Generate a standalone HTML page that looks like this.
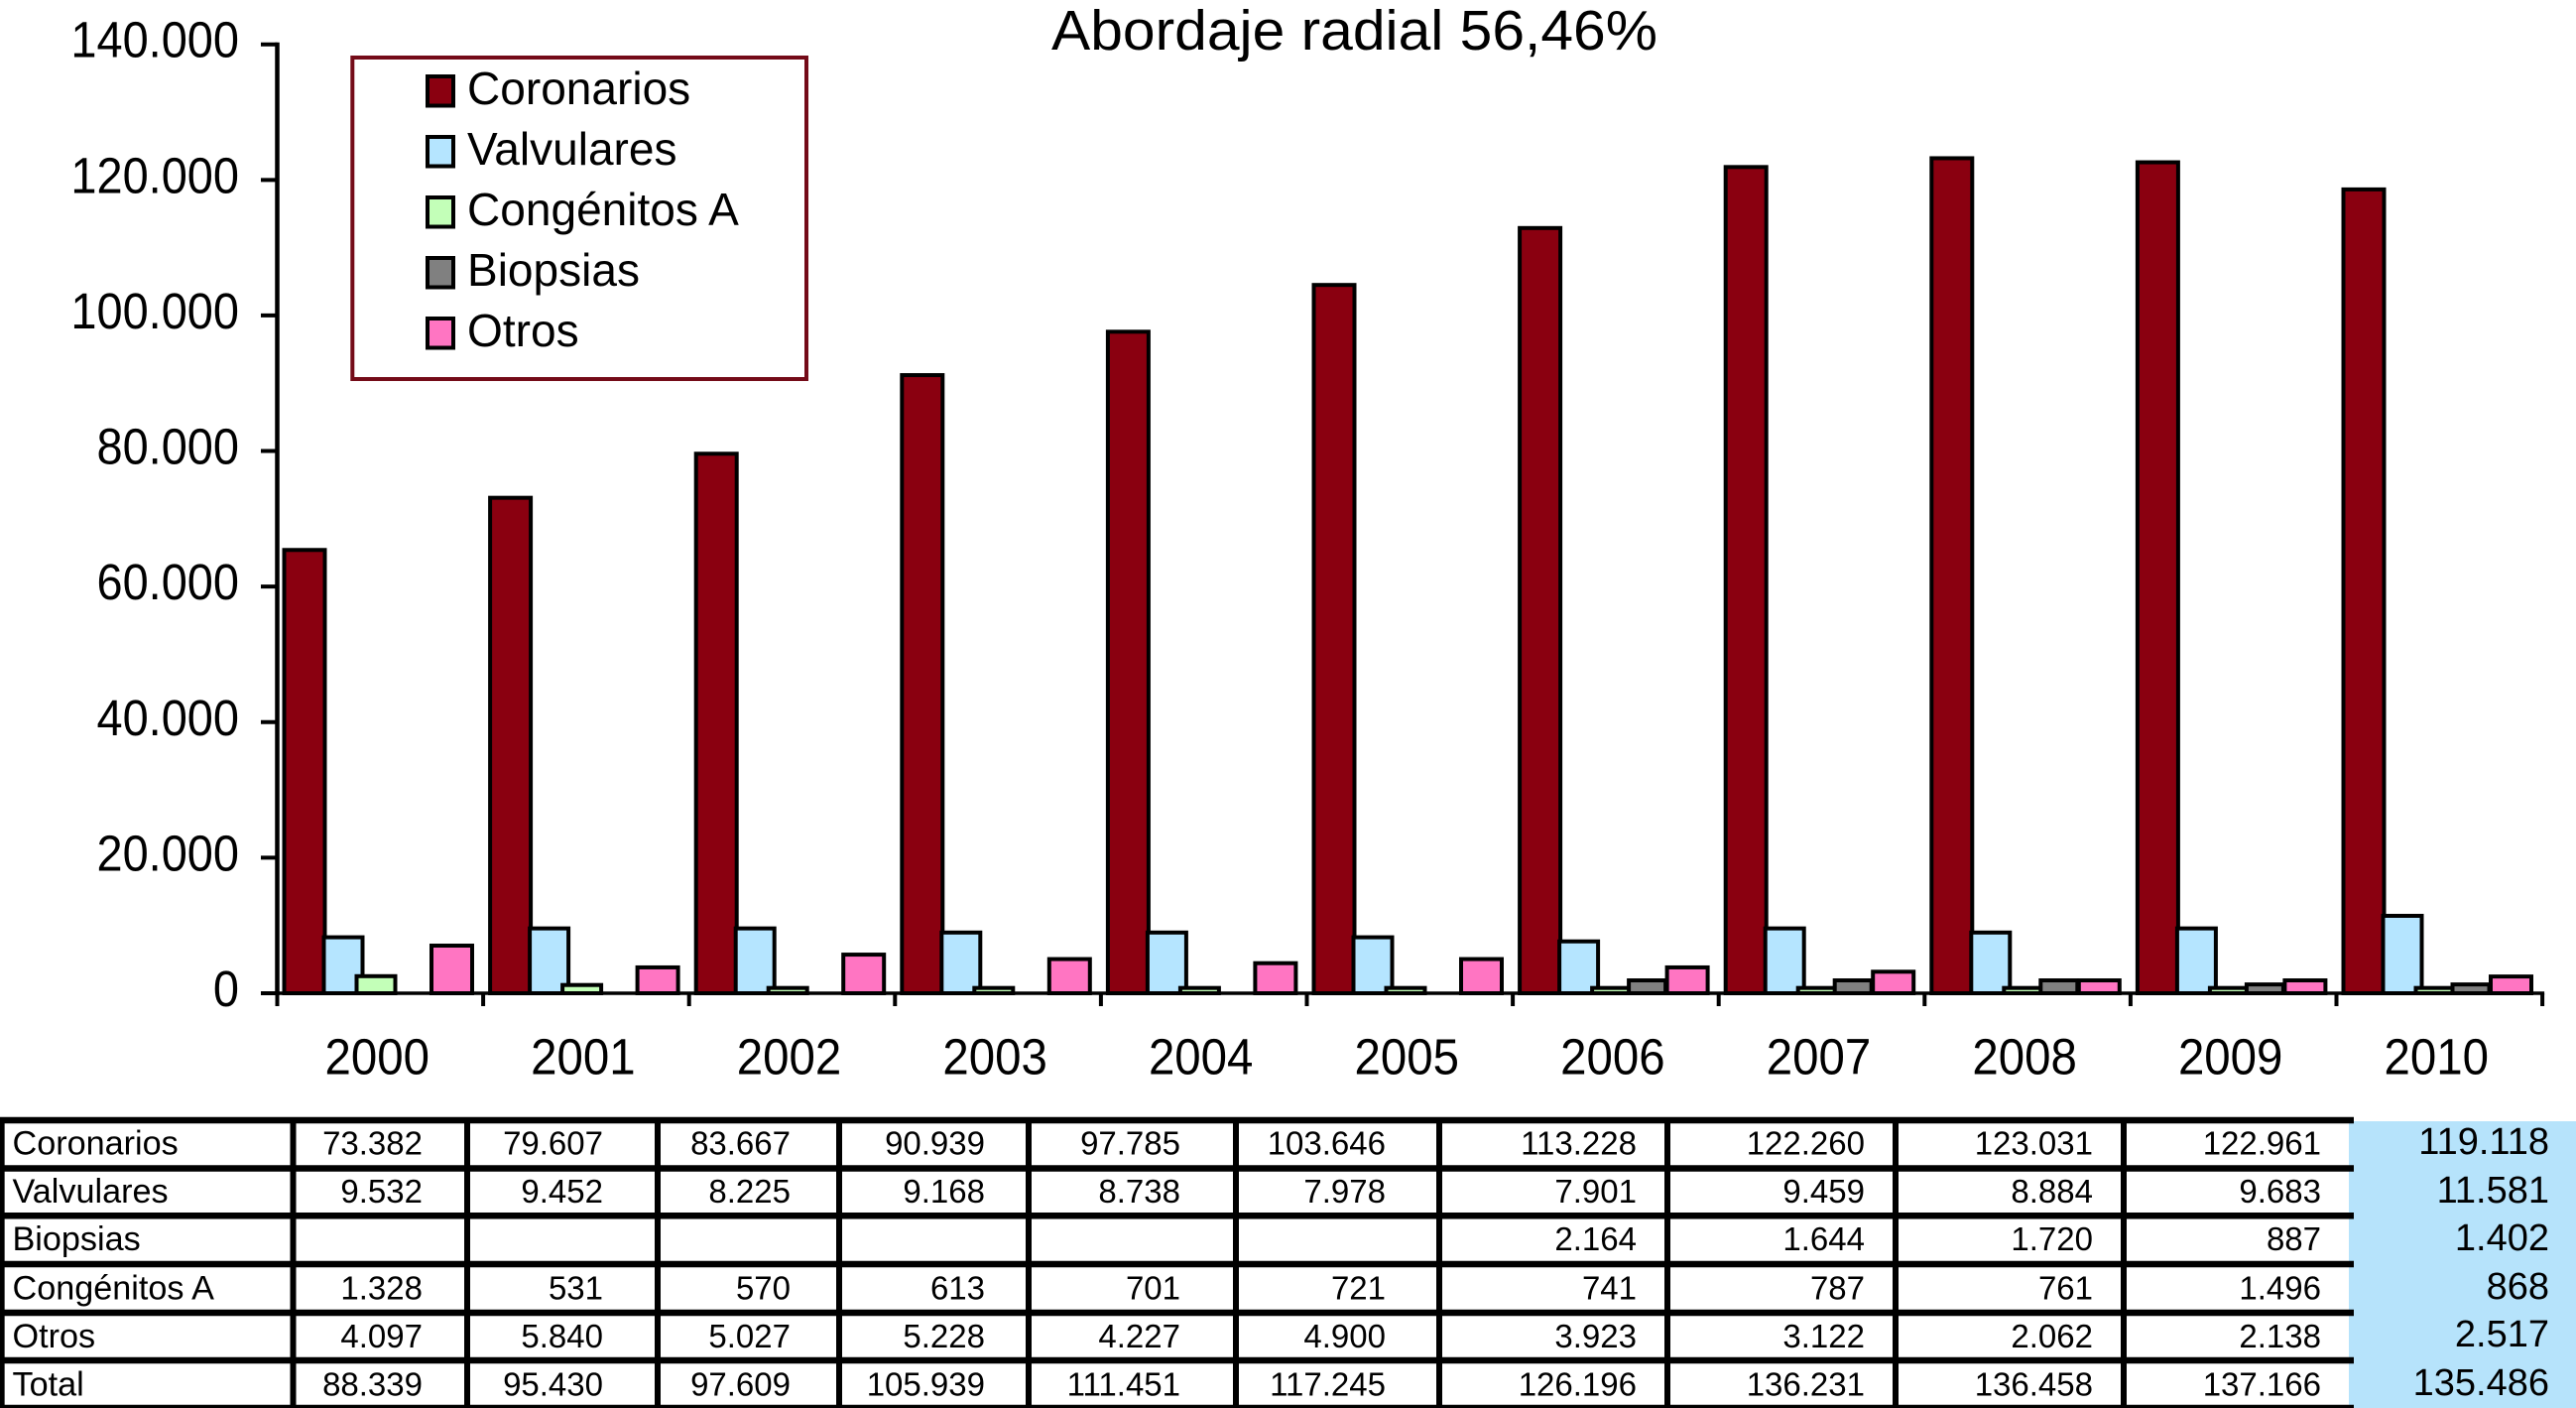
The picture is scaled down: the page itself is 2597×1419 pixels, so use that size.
<!DOCTYPE html>
<html lang="es">
<head>
<meta charset="utf-8">
<title>Abordaje radial 56,46%</title>
<style>
html,body{margin:0;padding:0;background:#fff;}
svg{display:block;}
text{font-family:"Liberation Sans",Arial,sans-serif;fill:#000;}
</style>
</head>
<body>
<svg id="chart" xmlns="http://www.w3.org/2000/svg" width="2597" height="1419" viewBox="0 0 2597 1419"></svg>
<script>
// ---- chart data ----
const years = ['2000','2001','2002','2003','2004','2005','2006','2007','2008','2009','2010'];
const coronarios = [65400,73100,79600,91200,97600,104500,112900,121900,123200,122600,118600];
const valvulares = [8257,9565,9565,8957,8957,8257,7650,9565,8957,9565,11420];
const congenitos = [2520,1215,780,780,780,780,780,780,780,780,780];
const biopsias = [null,null,null,null,null,null,1900,1900,1900,1300,1300];
const otros = [7025,3815,5700,5040,4435,5040,3815,3175,1900,1900,2470];
const yTickValues = [0,20000,40000,60000,80000,100000,120000,140000];
const yTickLabels = ['0','20.000','40.000','60.000','80.000','100.000','120.000','140.000'];
const legendLabels = ['Coronarios','Valvulares','Congénitos A','Biopsias','Otros'];
const seriesColors = ['#8a0010','#b5e5ff','#c3ffb8','#808080','#ff75c2'];

// ---- table data ----
const tableLabels = ['Coronarios','Valvulares','Biopsias','Congénitos A','Otros','Total'];
const rowCoronarios = ['73.382','79.607','83.667','90.939','97.785','103.646','113.228','122.260','123.031','122.961','119.118'];
const rowValvulares = ['9.532','9.452','8.225','9.168','8.738','7.978','7.901','9.459','8.884','9.683','11.581'];
const rowBiopsias = ['','','','','','','2.164','1.644','1.720','887','1.402'];
const rowCongenitos = ['1.328','531','570','613','701','721','741','787','761','1.496','868'];
const rowOtros = ['4.097','5.840','5.027','5.228','4.227','4.900','3.923','3.122','2.062','2.138','2.517'];
const rowTotal = ['88.339','95.430','97.609','105.939','111.451','117.245','126.196','136.231','136.458','137.166','135.486'];

// ---- layout ----
const NS = 'http://www.w3.org/2000/svg';
const svg = document.getElementById('chart');
const plotLeft = 279.5, bandW = 207.6, y0 = 1001, pxPerUnit = 956.3 / 140000;
const sw = 4;
const serOffset = [5, 45, 78, 115, 153.5];
const serWidth = [45, 43, 43, 41, 45];
const yScale = v => y0 - v * pxPerUnit;
const bandX = i => plotLeft + bandW * i;

function mk(tag, attrs, parent) {
  const el = document.createElementNS(NS, tag);
  for (const k in attrs) el.setAttribute(k, attrs[k]);
  (parent || svg).appendChild(el);
  return el;
}
function label(str, attrs, sx, parent) {
  const el = mk('text', attrs, parent);
  el.textContent = str;
  if (sx && sx !== 1) {
    const w = el.getComputedTextLength();
    el.setAttribute('textLength', (w * sx).toFixed(1));
    el.setAttribute('lengthAdjust', 'spacingAndGlyphs');
  }
  return el;
}

// title
const titleEl = label('Abordaje radial 56,46%', {x:1060, y:50, 'font-size':57, textLength:611, lengthAdjust:'spacingAndGlyphs'});



// y axis
const yAxis = mk('line', {x1:plotLeft, x2:plotLeft, y1:yScale(140000)-2, y2:y0+2, stroke:'#000','stroke-width':4.5});


yTickValues.forEach((v, i) => {
  const t = mk('line', {x1:263, x2:plotLeft, y1:yScale(v), y2:yScale(v), stroke:'#000','stroke-width':4});
  
  
  const l = label(yTickLabels[i], {x:241, y:yScale(v)+13, 'text-anchor':'end', 'font-size':51}, 0.92);
  
  
});

// bars
const allSeries = [coronarios, valvulares, congenitos, biopsias, otros];
const seriesSlugs = ['coronarios','valvulares','congenitos','biopsias','otros'];
years.forEach((yr, i) => {
  allSeries.forEach((vals, s) => {
    const v = vals[i];
    if (v === null) return;
    const x = bandX(i) + serOffset[s] + sw / 2;
    const yTop = yScale(v);
    const bar = mk('rect', {x:x, y:yTop, width:serWidth[s]-sw, height:y0-yTop, fill:seriesColors[s], stroke:'#000','stroke-width':sw});
    
    
  });
});

// x axis
const xAxis = mk('line', {x1:263, x2:bandX(years.length)+2, y1:y0, y2:y0, stroke:'#000','stroke-width':3.6});


for (let i = 0; i <= years.length; i++) {
  const t = mk('line', {x1:bandX(i), x2:bandX(i), y1:y0, y2:1014, stroke:'#000','stroke-width':4});
  
  
}
years.forEach((yr, i) => {
  const l = label(yr, {x:bandX(i)+bandW/2-3, y:1082.5, 'text-anchor':'middle', 'font-size':51}, 0.93);
  
  
});

// legend
const legendBox = mk('rect', {x:355.3, y:58, width:457.7, height:324, fill:'#fff', stroke:'#740b18','stroke-width':4});


legendLabels.forEach((name, i) => {
  const sy = 77 + i * 61;
  const sq = mk('rect', {x:431, y:sy, width:26, height:29.5, fill:seriesColors[i], stroke:'#000','stroke-width':4});
  
  
  const l = label(name, {x:471, y:105 + i * 61, 'font-size':46.5}, 0.99);
  
  
});

// table
const highlight = mk('rect', {x:2368, y:1130, width:229, height:289, fill:'#b6e3fb'});


const hLines = [1129, 1177.5, 1225.2, 1274, 1323, 1371, 1419];
const vLines = [2.3, 295.5, 471, 663, 846, 1037, 1246, 1451, 1681, 1911, 2141];
hLines.forEach(y => {
  const l = mk('line', {x1:0, x2:2373, y1:y, y2:y, stroke:'#000','stroke-width':6.5});
  
  
});
vLines.forEach(x => {
  const l = mk('line', {x1:x, x2:x, y1:1126, y2:1419, stroke:'#000','stroke-width':x < 3 ? 4.7 : 6});
  
  
});
const tableRows = [rowCoronarios, rowValvulares, rowBiopsias, rowCongenitos, rowOtros, rowTotal];
const rowBase = [1163.5, 1212, 1260, 1309.5, 1358, 1406.5];
const lastBase = [1163, 1212, 1260, 1309, 1357, 1406];
const colRight = [426, 608, 797, 993, 1190, 1397, 1650, 1880, 2110, 2340, 2570];
tableLabels.forEach((name, r) => {
  const l = label(name, {x:12.5, y:rowBase[r], 'font-size':34.2});
  
  
  tableRows[r].forEach((val, c) => {
    if (!val) return;
    const isLast = c === colRight.length - 1;
    const cell = label(val, {x:colRight[c], y:isLast ? lastBase[r] : rowBase[r], 'text-anchor':'end', 'font-size':isLast ? 38 : 33});
    
    
  });
});
</script>
</body>
</html>
